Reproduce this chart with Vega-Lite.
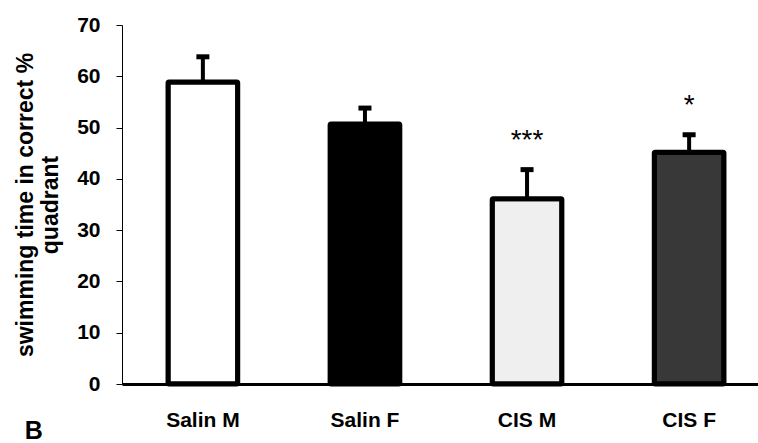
{
  "$schema": "https://vega.github.io/schema/vega-lite/v6.json",
  "width": 648,
  "height": 359,
  "padding": {"left": 14, "top": 13, "right": 0, "bottom": 0},
  "background": "white",
  "config": {
    "view": {"stroke": null},
    "font": "Liberation Sans",
    "axis": {"grid": false, "labelFont": "Liberation Sans", "titleFont": "Liberation Sans", "labelFontWeight": "bold", "titleFontWeight": "bold", "labelColor": "black", "titleColor": "black", "domainColor": "black", "tickColor": "black"}
  },
  "title": {"text": "B", "orient": "bottom", "anchor": "start", "frame": "bounds", "fontSize": 25, "fontWeight": "bold", "font": "Liberation Sans", "color": "black", "offset": -11, "dx": 10},
  "data": {
    "values": [
      {"group": "Salin M", "mean": 58.9, "upper": 63.8, "sig": ""},
      {"group": "Salin F", "mean": 50.7, "upper": 53.8, "sig": ""},
      {"group": "CIS M", "mean": 36.1, "upper": 41.8, "sig": "***"},
      {"group": "CIS F", "mean": 45.2, "upper": 48.6, "sig": "*"}
    ]
  },
  "encoding": {
    "x": {
      "field": "group", "type": "nominal", "sort": null,
      "scale": {"paddingInner": 0.57, "paddingOuter": 0.284},
      "axis": {"title": null, "labelAngle": 0, "labelFontSize": 21, "ticks": false, "labelPadding": 25, "domainWidth": 3}
    }
  },
  "layer": [
    {
      "mark": {"type": "rule", "strokeWidth": 4, "color": "black"},
      "encoding": {
        "y": {"field": "mean", "type": "quantitative"},
        "y2": {"field": "upper"}
      }
    },
    {
      "mark": {"type": "tick", "orient": "horizontal", "size": 13, "thickness": 5, "color": "black", "opacity": 1},
      "encoding": {"y": {"field": "upper", "type": "quantitative"}}
    },
    {
      "mark": {"type": "bar", "stroke": "black", "strokeWidth": 5, "cornerRadius": 1},
      "encoding": {
        "y": {
          "field": "mean", "type": "quantitative",
          "scale": {"domain": [0, 70]},
          "axis": {"values": [0, 10, 20, 30, 40, 50, 60, 70], "labelFontSize": 21, "labelPadding": 16, "tickSize": 6, "domainWidth": 1, "titleFontSize": 23, "titlePadding": 14, "titleLineHeight": 25,
            "title": ["swimming time in correct %", "quadrant"]}
        },
        "fill": {
          "field": "group", "type": "nominal", "legend": null,
          "scale": {"domain": ["Salin M", "Salin F", "CIS M", "CIS F"], "range": ["#ffffff", "#000000", "#efefef", "#383838"]}
        }
      }
    },
    {
      "mark": {"type": "text", "fontSize": 28, "baseline": "middle", "dy": -29, "color": "black", "font": "Liberation Sans"},
      "encoding": {
        "y": {"field": "upper", "type": "quantitative"},
        "text": {"field": "sig"}
      }
    }
  ]
}
